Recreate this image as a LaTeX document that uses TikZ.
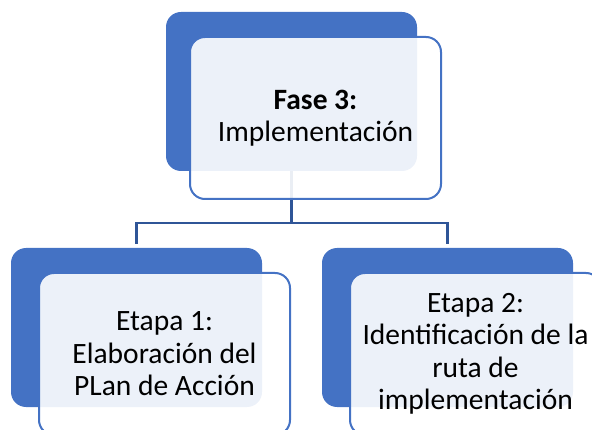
\documentclass[tikz,border=0pt]{standalone}
\usepackage{fontspec}
\setmainfont{Carlito}
\usetikzlibrary{calc, positioning}
\definecolor{smartblue}{HTML}{4472C4}
\definecolor{linkblue}{HTML}{2F5597}

\tikzset{
  backbox/.style={fill=smartblue, rounded corners=15pt,
    minimum width=251pt, minimum height=159pt, inner sep=0pt},
  frontbox/.style={draw=smartblue, line width=2pt, fill=white,
    fill opacity=0.9, text opacity=1, rounded corners=15pt,
    minimum width=251pt, minimum height=162pt, inner sep=0pt,
    align=center, font=\fontsize{29.5}{32.5}\selectfont},
  link/.style={draw=linkblue, line width=2.5pt}
}

\begin{document}
\begin{tikzpicture}[x=1pt, y=-1pt]
  \useasboundingbox (0,0) rectangle (592,430);
  \clip (0,0) rectangle (592,430);

  % back boxes
  \node[backbox] (fase-back) at (291.5,91.5) {};
  \node[backbox] (etapa1-back) at (136.5,327.5) {};
  \node[backbox] (etapa2-back) at (447.5,327.5) {};

  % connectors
  \coordinate (split) at (291.5,223);
  \draw[link] (fase-back.south) -- (split);
  \draw[link, shorten >=4pt] (split) -| (etapa1-back.north);
  \draw[link, shorten >=4pt] (split) -| (etapa2-back.north);

  % front boxes
  \node[frontbox] (fase) at ($(fase-back)+(24,26.5)$)
    {\textbf{Fase 3:}\\Implementación};
  \node[frontbox] (etapa1) at ($(etapa1-back)+(28,26.5)$)
    {Etapa 1:\\Elaboración del\\PLan de Acción};
  \node[frontbox] (etapa2) at ($(etapa2-back)+(28,26.5)$)
    {Etapa 2:\\Identificación de la\\ruta de\\implementación};
\end{tikzpicture}
\end{document}
